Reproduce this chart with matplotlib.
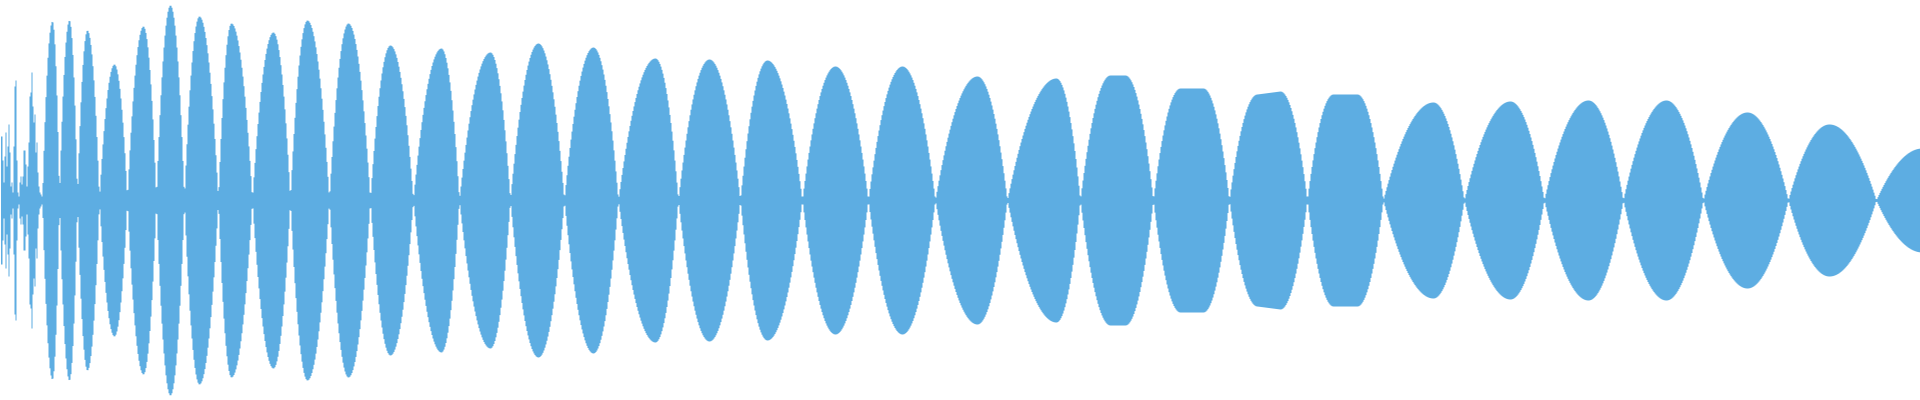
#!/usr/bin/env python
# -*- coding: utf-8 -*-
"""Waveform overview: symmetric amplitude envelope of a decaying tone."""
import numpy as np
import matplotlib.pyplot as plt

WAVE_COLOR = "#5dade2"
N_SAMPLES = 1920  # one envelope value per column

# noisy attack: envelope of the first columns (fraction of full scale)
attack_env = [
    0.32, 0.32, 0.20, 0.09, 0.22, 0.34, 0.17, 0.27, 0.38, 0.24,
    0.07, 0.09, 0.04, 0.27, 0.57, 0.60, 0.20, 0.04, 0.02, 0.09,
    0.12, 0.08, 0.12, 0.25, 0.25, 0.18, 0.07, 0.17, 0.29, 0.52,
    0.54, 0.64, 0.47, 0.39, 0.43, 0.24, 0.29, 0.14, 0.07, 0.04,
    0.03, 0.02,
]

# beating part: zero crossings of the envelope (column index)
lobe_start = [42, 59, 77, 99, 127, 156, 184, 218, 252, 290, 329, 370, 413,
              459, 510, 564, 618, 678, 740, 802, 868, 935, 1007, 1080, 1153,
              1229, 1307, 1383, 1464, 1544, 1623, 1703, 1788, 1876]
lobe_end = lobe_start[1:] + [1968]
# crest of each lobe (left / right edge of the crest, for flat tops)
crest_left = [52, 69, 87, 114, 143, 170, 199, 231, 273, 307, 348, 390, 441,
              490, 538, 593, 655, 709, 767, 835, 902, 977, 1056, 1110, 1180,
              1257, 1333, 1433, 1510, 1588, 1666, 1747, 1829, 1922]
crest_right = [52, 69, 87, 114, 143, 170, 199, 231, 273, 307, 348, 390, 441,
               490, 538, 593, 655, 709, 767, 835, 902, 977, 1056, 1125, 1203,
               1280, 1357, 1433, 1510, 1588, 1666, 1747, 1829, 1922]
crest_amp_left = [0.895, 0.90, 0.85, 0.68, 0.87, 0.975, 0.92, 0.885, 0.84,
                  0.90, 0.885, 0.775, 0.76, 0.74, 0.785, 0.765, 0.71, 0.705,
                  0.70, 0.67, 0.67, 0.62, 0.61, 0.625, 0.56, 0.53, 0.53,
                  0.49, 0.495, 0.50, 0.50, 0.44, 0.38, 0.26]
crest_amp_right = [0.895, 0.90, 0.85, 0.68, 0.87, 0.975, 0.92, 0.885, 0.84,
                   0.90, 0.885, 0.775, 0.76, 0.74, 0.785, 0.765, 0.71, 0.705,
                   0.70, 0.67, 0.67, 0.62, 0.61, 0.625, 0.56, 0.545, 0.53,
                   0.49, 0.495, 0.50, 0.50, 0.44, 0.38, 0.26]

MIN_AMP = 0.007  # a waveform never quite vanishes at one column


def lens(t):
    """Straight-ish flank at the zero crossing, round at the crest."""
    return 1.0 - (1.0 - t) ** 2


def lobe_envelope(x, x0, xl, xr, x1, al, ar):
    env = np.zeros_like(x)
    rise = (x >= x0) & (x < xl)
    env[rise] = al * lens((x[rise] - x0) / (xl - x0))
    top = (x >= xl) & (x <= xr)
    if xr > xl:
        env[top] = al + (ar - al) * (x[top] - xl) / (xr - xl)
    else:
        env[top] = al
    fall = (x > xr) & (x <= x1)
    env[fall] = ar * lens((x1 - x[fall]) / (x1 - xr))
    return env


x = np.arange(N_SAMPLES) + 0.5
env = np.zeros(N_SAMPLES)
env[: len(attack_env)] = attack_env
for x0, xl, xr, x1, al, ar in zip(lobe_start, crest_left, crest_right,
                                  lobe_end, crest_amp_left, crest_amp_right):
    env = np.maximum(env, lobe_envelope(x, x0, xl, xr, x1, al, ar))
env = np.maximum(env, MIN_AMP)

fig = plt.figure(figsize=(19.2, 4), dpi=100)
ax = fig.add_axes([0, 0, 1, 1])
ax.fill_between(x, -env, env, step="mid", color=WAVE_COLOR, linewidth=0)
ax.set_xlim(0, N_SAMPLES)
ax.set_ylim(-1, 1)
ax.axis("off")

fig.savefig("out.png", dpi=100, facecolor="white")
